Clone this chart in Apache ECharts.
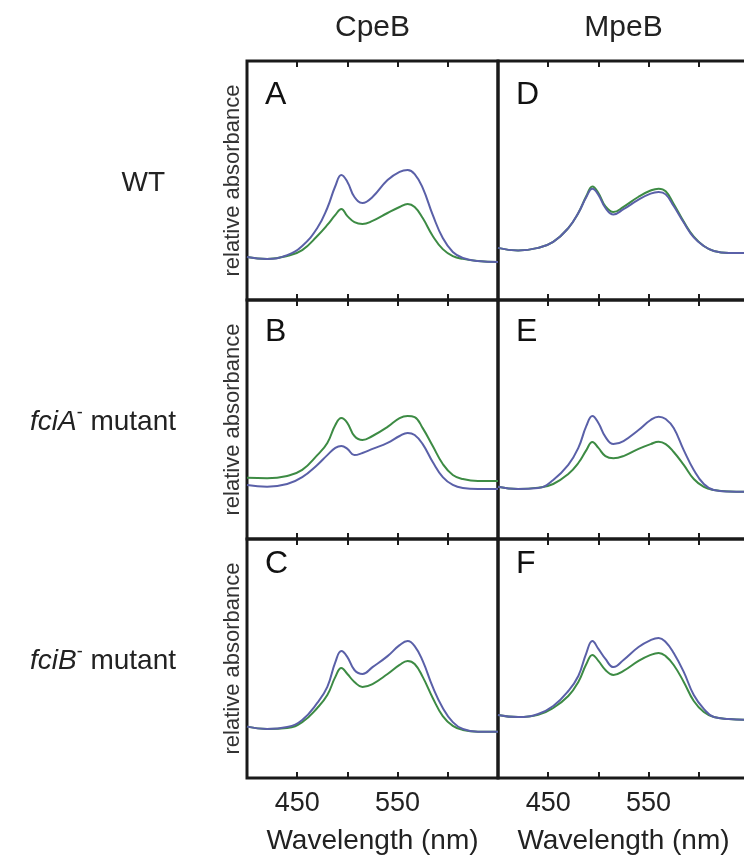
<!DOCTYPE html>
<html>
<head>
<meta charset="utf-8">
<script src="https://cdn.jsdelivr.net/npm/echarts@6/dist/echarts.min.js"></script>
<style>
html, body { margin: 0; padding: 0; background: #fff; }
#main { width: 744px; height: 858px; }
</style>
</head>
<body>
<div id="main"></div>
<script>
var myChart = echarts.init(document.getElementById('main'));

// Wavelength grid (nm) shared by every trace
const wavelength = [400, 420, 440, 455, 470, 480, 488, 494, 500, 507, 515, 525, 540, 552, 560, 567, 575, 585, 595, 605, 615, 630, 650];
const labelledTicks = [450, 550];

// CpeB column (relative absorbance)
const aBlue  = [0.180, 0.172, 0.188, 0.226, 0.301, 0.385, 0.477, 0.523, 0.494, 0.431, 0.406, 0.431, 0.502, 0.536, 0.544, 0.527, 0.469, 0.356, 0.259, 0.201, 0.176, 0.163, 0.159];
const aGreen = [0.180, 0.172, 0.184, 0.209, 0.268, 0.314, 0.356, 0.381, 0.351, 0.326, 0.318, 0.331, 0.364, 0.389, 0.402, 0.389, 0.343, 0.268, 0.213, 0.184, 0.172, 0.163, 0.159];
const bBlue  = [0.226, 0.219, 0.230, 0.259, 0.310, 0.351, 0.381, 0.389, 0.377, 0.351, 0.360, 0.377, 0.402, 0.431, 0.444, 0.435, 0.397, 0.322, 0.259, 0.226, 0.213, 0.209, 0.209];
const bGreen = [0.256, 0.254, 0.264, 0.289, 0.351, 0.402, 0.477, 0.506, 0.485, 0.431, 0.414, 0.431, 0.469, 0.506, 0.515, 0.510, 0.464, 0.389, 0.314, 0.268, 0.251, 0.243, 0.243];
const cBlue  = [0.215, 0.205, 0.213, 0.243, 0.314, 0.381, 0.485, 0.531, 0.506, 0.452, 0.435, 0.464, 0.510, 0.556, 0.573, 0.552, 0.490, 0.381, 0.293, 0.234, 0.205, 0.194, 0.194];
const cGreen = [0.215, 0.205, 0.209, 0.234, 0.293, 0.347, 0.423, 0.460, 0.435, 0.402, 0.381, 0.393, 0.435, 0.473, 0.490, 0.477, 0.423, 0.335, 0.259, 0.218, 0.201, 0.194, 0.194];

// MpeB column
const dBlue  = [0.218, 0.207, 0.218, 0.243, 0.301, 0.364, 0.431, 0.465, 0.440, 0.385, 0.358, 0.380, 0.420, 0.445, 0.452, 0.442, 0.393, 0.324, 0.262, 0.226, 0.205, 0.197, 0.197];
const dGreen = [0.218, 0.207, 0.218, 0.243, 0.301, 0.364, 0.435, 0.475, 0.448, 0.392, 0.368, 0.390, 0.432, 0.458, 0.466, 0.455, 0.402, 0.328, 0.265, 0.226, 0.205, 0.197, 0.197];
const eBlue  = [0.219, 0.209, 0.213, 0.247, 0.310, 0.381, 0.473, 0.515, 0.485, 0.427, 0.397, 0.410, 0.456, 0.498, 0.512, 0.502, 0.464, 0.372, 0.289, 0.230, 0.205, 0.199, 0.198];
const eGreen = [0.219, 0.209, 0.215, 0.230, 0.272, 0.318, 0.372, 0.406, 0.381, 0.347, 0.338, 0.347, 0.377, 0.397, 0.407, 0.397, 0.364, 0.310, 0.251, 0.218, 0.205, 0.199, 0.198];
const fBlue  = [0.264, 0.255, 0.268, 0.301, 0.364, 0.427, 0.523, 0.573, 0.540, 0.498, 0.464, 0.494, 0.548, 0.577, 0.586, 0.569, 0.523, 0.444, 0.347, 0.289, 0.255, 0.247, 0.243];
const fGreen = [0.264, 0.255, 0.264, 0.293, 0.343, 0.402, 0.477, 0.515, 0.490, 0.452, 0.431, 0.448, 0.490, 0.515, 0.523, 0.510, 0.473, 0.402, 0.322, 0.276, 0.255, 0.247, 0.243];

const columnTitles = ['CpeB', 'MpeB'];
// [italic part, superscript, plain part]
const rowLabels = [['', '', 'WT'], ['fciA', '-', ' mutant'], ['fciB', '-', ' mutant']];

const panels = [
    { letter: 'A', row: 0, col: 0, blue: aBlue, green: aGreen },
    { letter: 'B', row: 1, col: 0, blue: bBlue, green: bGreen },
    { letter: 'C', row: 2, col: 0, blue: cBlue, green: cGreen },
    { letter: 'D', row: 0, col: 1, blue: dBlue, green: dGreen },
    { letter: 'E', row: 1, col: 1, blue: eBlue, green: eGreen },
    { letter: 'F', row: 2, col: 1, blue: fBlue, green: fGreen }
];

// layout (px)
const colLeft = [247, 498];
const rowTop = [61, 300, 539];
const panelW = 251;
const panelH = 239;
const letterDy = [34, 32, 25];
const rowLabelRight = [165, 176, 176];

const FONT = '"Liberation Sans", Arial, sans-serif';
const INK = '#1a1a1a';
const BLUE = '#5a60a8';
const GREEN = '#3d8b44';

const tickStyle = { show: true, inside: true, length: 6, lineStyle: { color: INK, width: 2 } };

// text width helper for the composed row labels
var measureCtx = document.createElement('canvas').getContext('2d');
function textWidth(str, font) {
    measureCtx.font = font;
    return measureCtx.measureText(str).width;
}

var grids = [], xAxes = [], yAxes = [], series = [], graphics = [];

panels.forEach(function (p, i) {
    grids.push({
        left: colLeft[p.col], top: rowTop[p.row], width: panelW, height: panelH,
        show: true, borderColor: INK, borderWidth: 3, backgroundColor: 'transparent',
        outerBoundsMode: 'none'
    });
    // bottom axis carries the data
    xAxes.push({
        type: 'value', gridIndex: i, position: 'bottom',
        min: 400, max: 650, interval: 50,
        axisLine: { show: false }, splitLine: { show: false },
        axisTick: tickStyle,
        axisLabel: {
            show: p.row === 2, margin: 12, fontSize: 27, color: '#222', fontFamily: FONT,
            formatter: function (v) { return labelledTicks.indexOf(v) >= 0 ? String(v) : ''; }
        },
        name: p.row === 2 ? 'Wavelength (nm)' : '',
        nameLocation: 'middle', nameGap: 49,
        nameTextStyle: { fontSize: 28, color: '#222', fontFamily: FONT }
    });
    // top axis only for the tick marks
    xAxes.push({
        type: 'value', gridIndex: i, position: 'top',
        min: 400, max: 650, interval: 50,
        axisLine: { show: false }, splitLine: { show: false },
        axisTick: tickStyle, axisLabel: { show: false }
    });
    yAxes.push({ type: 'value', gridIndex: i, min: 0, max: 1, show: false });

    [['green', p.green, GREEN], ['blue', p.blue, BLUE]].forEach(function (s) {
        series.push({
            name: p.letter + ' ' + s[0],
            type: 'line',
            xAxisIndex: 2 * i, yAxisIndex: i,
            data: wavelength.map(function (w, k) { return [w, s[1][k]]; }),
            showSymbol: false, symbol: 'none', smooth: 0.45,
            lineStyle: { color: s[2], width: 2 },
            z: 3
        });
    });

    graphics.push({
        type: 'text', x: colLeft[p.col] + 18, y: rowTop[p.row] + letterDy[p.row],
        style: { text: p.letter, fill: '#111', font: '32px ' + FONT,
                 align: 'left', textAlign: 'left', verticalAlign: 'middle', textVerticalAlign: 'middle' }
    });
});

columnTitles.forEach(function (t, c) {
    graphics.push({
        type: 'text', x: colLeft[c] + panelW / 2, y: 28,
        style: { text: t, fill: '#222', font: '30px ' + FONT,
                 align: 'center', textAlign: 'center', verticalAlign: 'middle', textVerticalAlign: 'middle' }
    });
});

function addText(txt, x, y, font, align) {
    graphics.push({
        type: 'text', x: x, y: y,
        style: { text: txt, fill: '#222', font: font,
                 align: align, textAlign: align, verticalAlign: 'middle', textVerticalAlign: 'middle' }
    });
}

rowLabels.forEach(function (parts, r) {
    var cy = rowTop[r] + panelH / 2 + 3;
    var plainFont = '28px ' + FONT;
    var italicFont = 'italic 28px ' + FONT;
    var supFont = '18px ' + FONT;
    var x = rowLabelRight[r];
    addText(parts[2], x, cy, plainFont, 'right');
    x -= textWidth(parts[2], plainFont);
    if (parts[1]) {
        addText(parts[1], x, cy - 9, supFont, 'right');
        x -= textWidth(parts[1], supFont);
    }
    if (parts[0]) {
        addText(parts[0], x, cy, italicFont, 'right');
    }
    graphics.push({
        type: 'text', x: 233, y: rowTop[r] + panelH / 2, rotation: Math.PI / 2,
        style: { text: 'relative absorbance', fill: '#333', font: '22px ' + FONT,
                 align: 'center', textAlign: 'center', verticalAlign: 'middle', textVerticalAlign: 'middle' }
    });
});

var option = {
    animation: false,
    backgroundColor: '#fff',
    grid: grids,
    xAxis: xAxes,
    yAxis: yAxes,
    series: series,
    graphic: graphics
};

myChart.setOption(option);
</script>
</body>
</html>
